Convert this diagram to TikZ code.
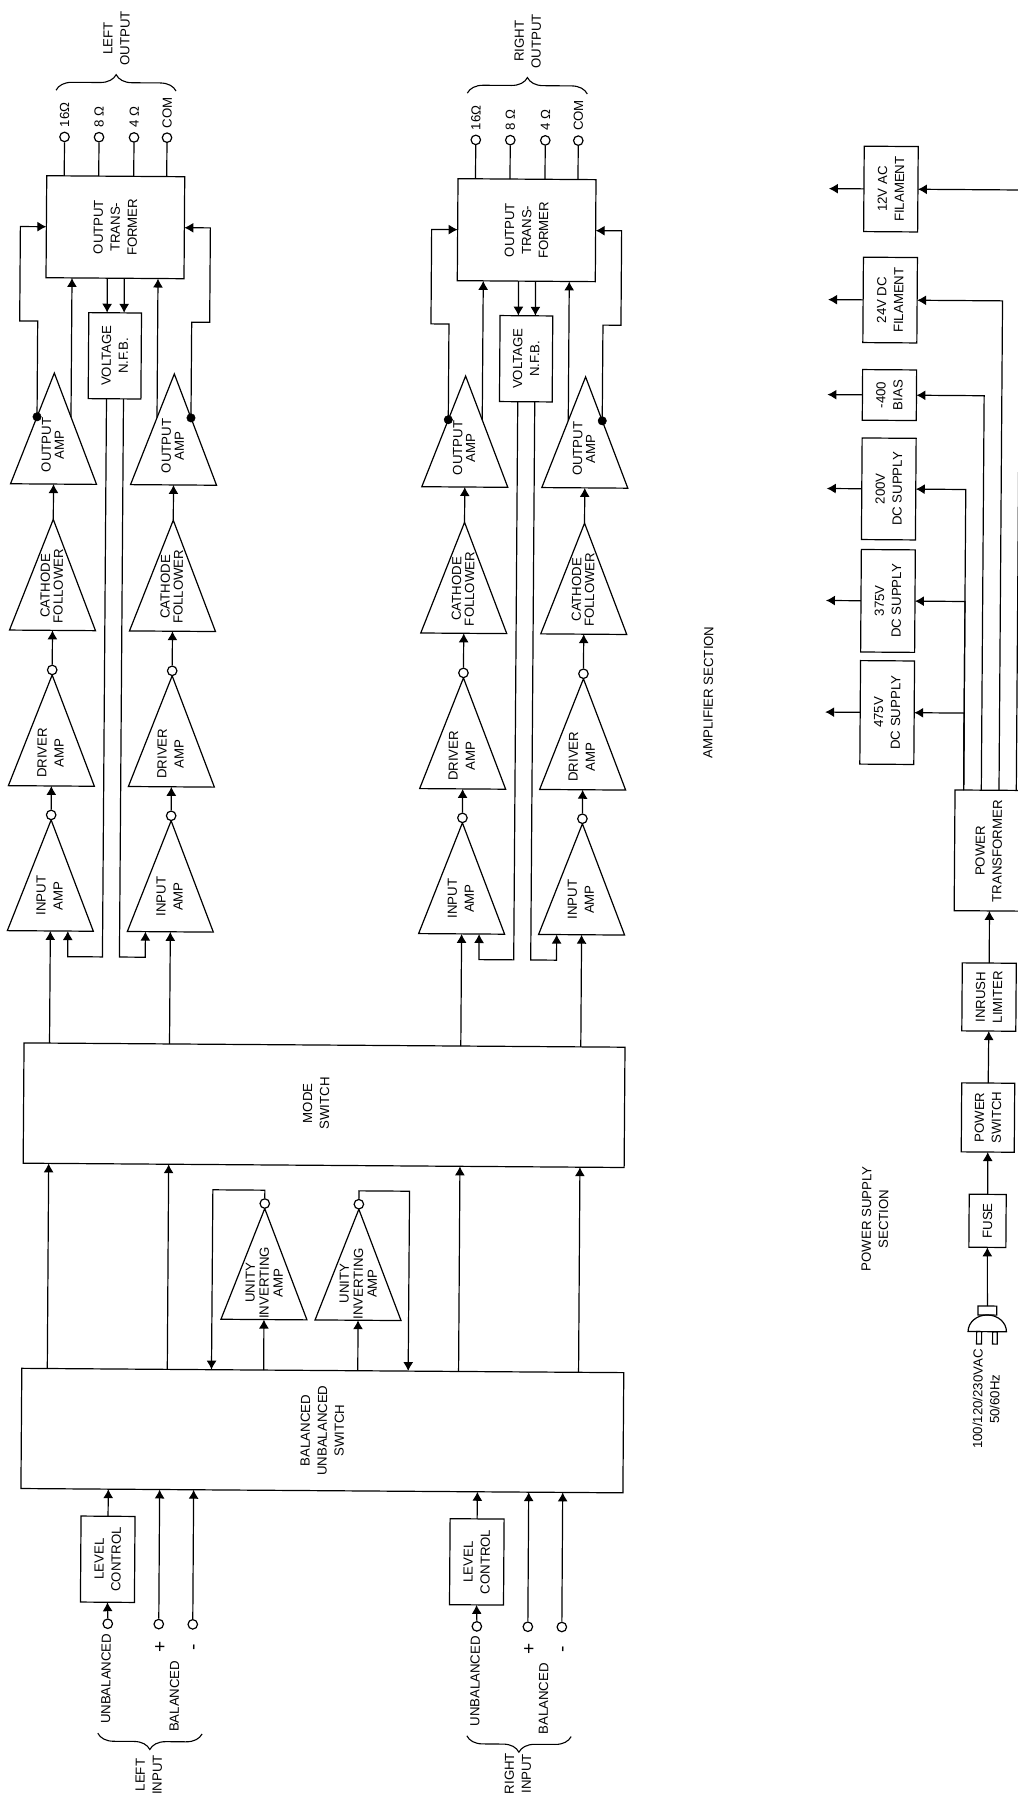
\documentclass[tikz,border=0pt]{standalone}
\usepackage{fontspec}
\setmainfont{Liberation Sans}
\usetikzlibrary{arrows.meta, calc, shapes.geometric, decorations.pathreplacing}
\tikzset{
    box/.style={draw, rectangle, line width=1.2pt, inner sep=0pt, outer sep=0pt},
    ampbox/.style={draw, isosceles triangle, isosceles triangle stretches, shape border rotate=90, minimum width=86, minimum height=111, line width=1.2pt, inner sep=0pt, outer sep=0pt},
    lab/.style={rotate=90, align=center, inner sep=0pt, font=\fontsize{13.2}{17}\selectfont},
    term/.style={draw, circle, fill=white, line width=1.2pt, inner sep=0pt, minimum size=9.5},
    blob/.style={draw, circle, fill=black, inner sep=0pt, minimum size=8.5},
    wire/.style={line width=1.2pt},
    sig/.style={line width=1.2pt, -{Latex[length=9pt,width=10pt]}},
    curly/.style={line width=1.1pt, decorate, decoration={brace, amplitude=16pt}}
}

\begin{document}
\begin{tikzpicture}[x=1pt, y=-1pt]

\useasboundingbox (0,0) rectangle (1017,1795);

\begin{scope}[rotate=-0.41, transform shape]

\node[box, minimum width=601, minimum height=120.3] (mode) at (332,1102.9) {};
\node[lab] (modetxt) at (324,1101) {MODE\\SWITCH};
\node[box, minimum width=602, minimum height=120.2, label={[lab]center:BALANCED\\UNBALANCED\\SWITCH}] (bu) at (332.6,1428.3) {};

% the two amplifier channels
\foreach \ch/\dx/\lab in {L/0/LEFT, R/411.3/RIGHT} {
    \node[box, minimum width=138, minimum height=102, label={[lab]center:OUTPUT\\TRANS-\\FORMER}] (\ch-xf) at (117+\dx,226.4) {};
    \node[box, minimum width=52.7, minimum height=86, label={[lab]center:VOLTAGE\\N.F.B.}] (\ch-nfb) at (117.4+\dx,355) {};

    \foreach \side/\cx in {a/57, b/177} {
        \foreach \st/\vy/\off/\lsk/\tx in {out/372.7/72/13/OUTPUT\\AMP, cat/519/66.6/13/CATHODE\\FOLLOWER, drv/674.6/78/17/DRIVER\\AMP, inp/819.6/75.7/17/INPUT\\AMP} {
            \node[ampbox, anchor=apex] (\ch-\st\side) at (\cx+\dx,\vy) {};
            \node[lab, font=\fontsize{13.2}{\lsk}\selectfont] (\ch-\st\side txt) at (\cx+\dx-1,\vy+\off) {\tx};
        }
        \node[term] (\ch-cd\side) at ($(\ch-drv\side.apex)+(0,-5)$) {};
        \node[term] (\ch-ci\side) at ($(\ch-inp\side.apex)+(0,-5)$) {};
        \draw[sig] (\ch-ci\side.north) -- (\ch-drv\side.south);
        \draw[sig] (\ch-cd\side.north) -- (\ch-cat\side.south);
        \draw[sig] (\ch-cat\side.apex) -- (\ch-out\side.south);
        \draw[sig] ($(mode.north west)+(\cx+\dx-31.5,0)$) -- (\ch-inp\side.south);
        \draw[sig] ($(bu.north west)+(\cx+\dx-31.5,0)$) -- ($(mode.south west)+(\cx+\dx-31.5,0)$);
    }

    \node[blob] (\ch-dota) at ($(\ch-outa.apex)!0.395!(\ch-outa.left corner)$) {};
    \node[blob] (\ch-dotb) at ($(\ch-outb.apex)!0.395!(\ch-outb.right corner)$) {};
    \coordinate (\ch-taba) at ($(\ch-outa.apex)!0.395!(\ch-outa.right corner)$);
    \coordinate (\ch-tabb) at ($(\ch-outb.apex)!0.395!(\ch-outb.left corner)$);

    \draw[sig] (\ch-dota.center) -- (\dx+40,320.8) -- (\dx+22,320.8) -- (\dx+22,226.4) -- (\ch-xf.west);
    \draw[sig] (\ch-dotb.center) -- (\dx+194,320.8) -- (\dx+212,320.8) -- (\dx+212,226.4) -- (\ch-xf.east);
    \draw[sig] (\ch-taba) -- ($(\ch-xf.south west)+(26,0)$);
    \draw[sig] (\ch-tabb) -- ($(\ch-xf.south west)+(112,0)$);

    % feedback through the voltage box
    \draw[sig] ($(\ch-xf.south west)+(61.3,0)$) -- ($(\ch-nfb.north west)+(18.3,0)$);
    \draw[sig] ($(\ch-xf.south west)+(78.3,0)$) -- ($(\ch-nfb.north west)+(35.3,0)$);
    \draw[sig] ($(\ch-nfb.south west)+(18.3,0)$) -- (\dx+109.3,956.2) -- (\dx+74.5,956.2) -- ($(\ch-inpa.south)+(17.5,0)$);
    \draw[sig] ($(\ch-nfb.south west)+(35.3,0)$) -- (\dx+126.3,956.2) -- (\dx+152.1,956.2) -- ($(\ch-inpb.south)+(-24.9,0)$);

    \foreach \i/\tu/\tname in {1/65.5/16Ω, 2/100/8 Ω, 3/135/4 Ω, 4/168/COM} {
        \node[term] (\ch-t\i) at (\tu+\dx,136.5) {};
        \node[lab, anchor=west] (\ch-tl\i) at (\tu+\dx,127) {\tname};
        \draw[wire] ($(\ch-xf.north west)+(\tu-48,0)$) -- (\ch-t\i.south);
    }
    \draw[curly] (\dx+56.7,89.8) -- (\dx+176.7,89.8);
    \node[lab] (\ch-olab) at (\dx+116.8,37.6) {\lab\\OUTPUT};
}

% unity inverting amps
\foreach \side/\cx in {a/273.4, b/367.5} {
    \node[ampbox, anchor=apex] (u\side) at (\cx,1206.7) {};
    \node[lab, font=\fontsize{13.2}{14}\selectfont] (u\side txt) at (\cx,1281) {UNITY\\INVERTING\\AMP};
    \node[term] (uc\side) at ($(u\side.apex)+(0,-5)$) {};
    \draw[sig] ($(bu.north west)+(\cx-31.5,0)$) -- (u\side.south);
}
\draw[sig] (uca.north) -- (273.4,1188.3) -- (221.4,1188.3) -- ($(bu.north west)+(189.7,0)$);
\draw[sig] (ucb.north) -- (367.5,1188.3) -- (418.1,1188.3) -- ($(bu.north west)+(386.4,0)$);

% inputs
\foreach \ch/\dx/\lab/\ly in {L/0/LEFT/1774, R/369.1/RIGHT/1770} {
    \node[box, minimum width=54, minimum height=86, label={[lab]center:LEVEL\\CONTROL}] (\ch-lvl) at (118.9+\dx,1558.5) {};
    \node[term] (\ch-un) at (119.4+\dx,1623) {};
    \node[term] (\ch-pl) at (170.4+\dx,1623) {};
    \node[term] (\ch-mi) at (204.4+\dx,1623) {};
    \draw[sig] (\ch-un.north) -- (\ch-lvl.south);
    \draw[sig] (\ch-lvl.north) -- ($(bu.south west)+(\dx+87.4,0)$);
    \draw[sig] (\ch-pl.north) -- ($(bu.south west)+(\dx+138.7,0)$);
    \draw[sig] (\ch-mi.north) -- ($(bu.south west)+(\dx+172.7,0)$);
    \node[lab] (\ch-untxt) at (118+\dx,1678) {UNBALANCED};
    \node[lab, font=\fontsize{19}{19}\selectfont] (\ch-pltxt) at (172.5+\dx,1645.5) {+};
    \node[lab, font=\fontsize{19}{19}\selectfont] (\ch-mitxt) at (207.8+\dx,1645.5) {-};
    \node[lab] (\ch-batxt) at (186.6+\dx,1695) {BALANCED};
    \draw[curly] (\dx+214.5,1732.5) -- (\dx+110.2,1732.5);
    \node[lab] (\ch-ilab) at (161.5+\dx,\ly) {\lab\\INPUT};
}

\node[lab] (ampsec) at (713.3,687.4) {AMPLIFIER SECTION};
\node[lab] (powsec) at (883.8,1212.7) {POWER SUPPLY\\SECTION};

% power supply
\node[box, minimum width=70.6, minimum height=120.7] (pxf) at (996,843.5) {};
\node[lab] (pxftxt) at (994.8,844) {POWER\\TRANSFORMER};
\node[box, minimum width=54, minimum height=68, label={[lab]center:INRUSH\\LIMITER}] (rush) at (996.2,990) {};
\node[box, minimum width=53, minimum height=69, label={[lab]center:POWER\\SWITCH}] (sw) at (996,1110.5) {};
\node[box, minimum width=37, minimum height=53, label={[lab]center:FUSE}] (fuse) at (996.3,1213.8) {};
\node[box, minimum width=18.7, minimum height=9] (plug) at (996.8,1303.5) {};
\foreach \from/\to in {plug/fuse, fuse/sw, sw/rush, rush/pxf}
    \draw[sig] (\from.north) -- (\to.south);

\draw[wire] (977.6,1324.6) arc[start angle=180, end angle=0, x radius=19.2pt, y radius=16.7pt] -- cycle;
\draw[wire] (986.2,1324.6) rectangle (991.2,1337);
\draw[wire] (1002.2,1324.6) rectangle (1006.8,1337);
\node[lab] (mains) at (996.2,1392) {100/120/230VAC\\50/60Hz};

\foreach \nm/\vy/\bh/\bus/\tx in {ac/182.7/85.4/1022/12V AC\\FILAMENT, dc/293.7/85.4/1004.7/24V DC\\FILAMENT, bias/388.7/50.6/987/-400\\BIAS, a200/482.6/101.6/969.3/200V\\DC SUPPLY, a375/594.6/102.5/969.3/375V\\DC SUPPLY, a475/706.2/103.5/969.3/475V\\DC SUPPLY} {
    \node[box, minimum width=54, minimum height=\bh, label={[lab]center:\tx}] (\nm) at (892.3,\vy) {};
    \draw[sig] (\nm.west) -- ++(-35,0);
    \draw[sig] ($(pxf.north west)+(\bus-960.7,0)$) -- (\bus,\vy) -- (\nm.east);
}

\end{scope}

\end{tikzpicture}
\end{document}
